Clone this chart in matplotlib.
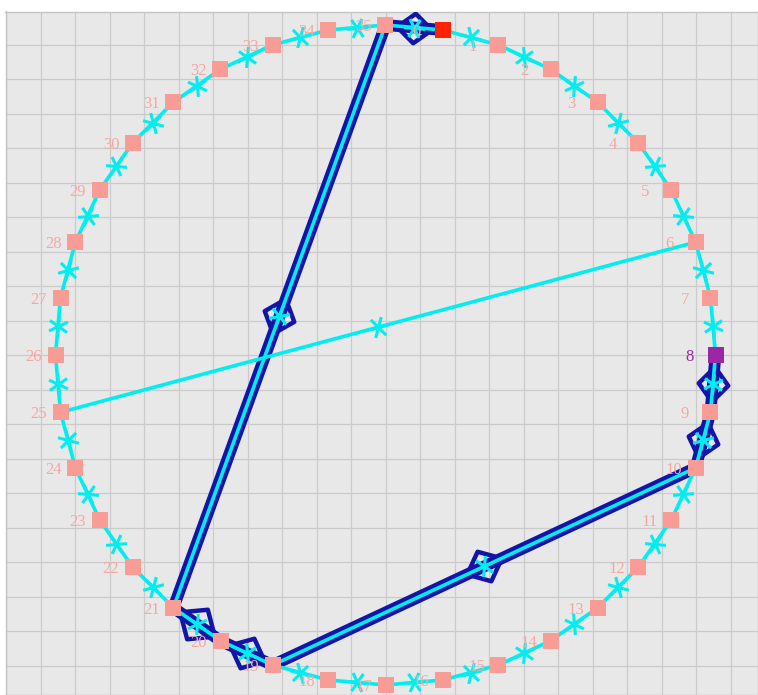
import numpy as np
import matplotlib
matplotlib.use('Agg')
import matplotlib.pyplot as plt
from matplotlib.path import Path
from matplotlib.ticker import MultipleLocator, NullFormatter

# graph data
nodes = list(range(36))
ring_edges = [(i, (i + 1) % 36) for i in nodes]
extra_edges = [(6, 25), (35, 21), (19, 10)]
path_nodes = [0, 35, 21, 20, 19, 10, 9, 8]
start_node = 0
end_node = 8

# circular layout, node 35 on top, going clockwise
ang = np.deg2rad(90 - 10 * (np.array(nodes) + 1))
pos = {n: (np.cos(a), np.sin(a)) for n, a in zip(nodes, ang)}

W, H = 758, 695
R = 330.0          # radius in pixels
cx, cy = 385.5, 355.0
left_px, top_px = 5.5, 11.5

fig = plt.figure(figsize=(W / 100, H / 100), dpi=100)
ax = fig.add_axes([left_px / W, 0, 1 - left_px / W, 1 - top_px / H])
ax.set_xlim((left_px - cx) / R, (W - cx) / R)
ax.set_ylim((cy - H) / R, (cy - top_px) / R)
ax.set_facecolor('#e8e8e8')
fig.patch.set_facecolor('white')

step = 34.5 / R
ax.xaxis.set_major_locator(MultipleLocator(step))
ax.yaxis.set_major_locator(MultipleLocator(step))
ax.xaxis.set_major_formatter(NullFormatter())
ax.yaxis.set_major_formatter(NullFormatter())
ax.tick_params(length=0)
ax.grid(True, color='#cbcbcb', lw=0.9)
ax.set_axisbelow(True)
for s in ax.spines.values():
    s.set_color('#c4c4c4')
    s.set_linewidth(1)

cyan = '#00eef0'
navy = '#1414a8'


def star_marker(theta):
    # six armed marker aligned with the edge
    verts, codes = [], []
    for d in (0, 60, -60):
        t = theta + np.deg2rad(d)
        verts += [(-np.cos(t), -np.sin(t)), (np.cos(t), np.sin(t))]
        codes += [Path.MOVETO, Path.LINETO]
    return Path(verts, codes)


def diamond_marker(theta):
    pts = [(1, 0), (0, 0.85), (-1, 0), (0, -0.85), (1, 0)]
    c, s = np.cos(theta), np.sin(theta)
    verts = [(c * x - s * y, s * x + c * y) for x, y in pts]
    return Path(verts, [Path.MOVETO] + [Path.LINETO] * 3 + [Path.CLOSEPOLY])


# highlighted path (navy band under the cyan edges)
path_edges = list(zip(path_nodes[:-1], path_nodes[1:]))
for a, b in path_edges:
    (x0, y0), (x1, y1) = pos[a], pos[b]
    ax.plot([x0, x1], [y0, y1], color=navy, lw=8.5, solid_capstyle='butt', zorder=2)

for a, b in path_edges:
    (x0, y0), (x1, y1) = pos[a], pos[b]
    th = np.arctan2(y1 - y0, x1 - x0)
    ax.plot([(x0 + x1) / 2], [(y0 + y1) / 2], marker=diamond_marker(th), ms=25,
            mfc='none', mec=navy, mew=3.2, zorder=3)

# cyan edges
for a, b in ring_edges + extra_edges:
    (x0, y0), (x1, y1) = pos[a], pos[b]
    ax.plot([x0, x1], [y0, y1], color=cyan, lw=2.6, zorder=4)
    th = np.arctan2(y1 - y0, x1 - x0)
    ax.plot([(x0 + x1) / 2], [(y0 + y1) / 2], marker=star_marker(th), ms=15,
            color=cyan, mew=2.2, zorder=4)

# nodes
for n in nodes:
    x, y = pos[n]
    if n == start_node:
        col, tcol = '#ff2200', '#f5a8a2'
    elif n == end_node:
        col, tcol = '#9c27a6', '#9c27a6'
    else:
        col, tcol = '#fa9c96', '#f5a8a2'
    ax.plot([x], [y], marker='s', ms=12, color=col, mew=0, zorder=5)
    ax.text(x - 30 / R, y, str(n), color=tcol, fontsize=12, family='Liberation Serif',
            ha='left', va='center_baseline', zorder=6)

fig.savefig('out.png', dpi=100)
